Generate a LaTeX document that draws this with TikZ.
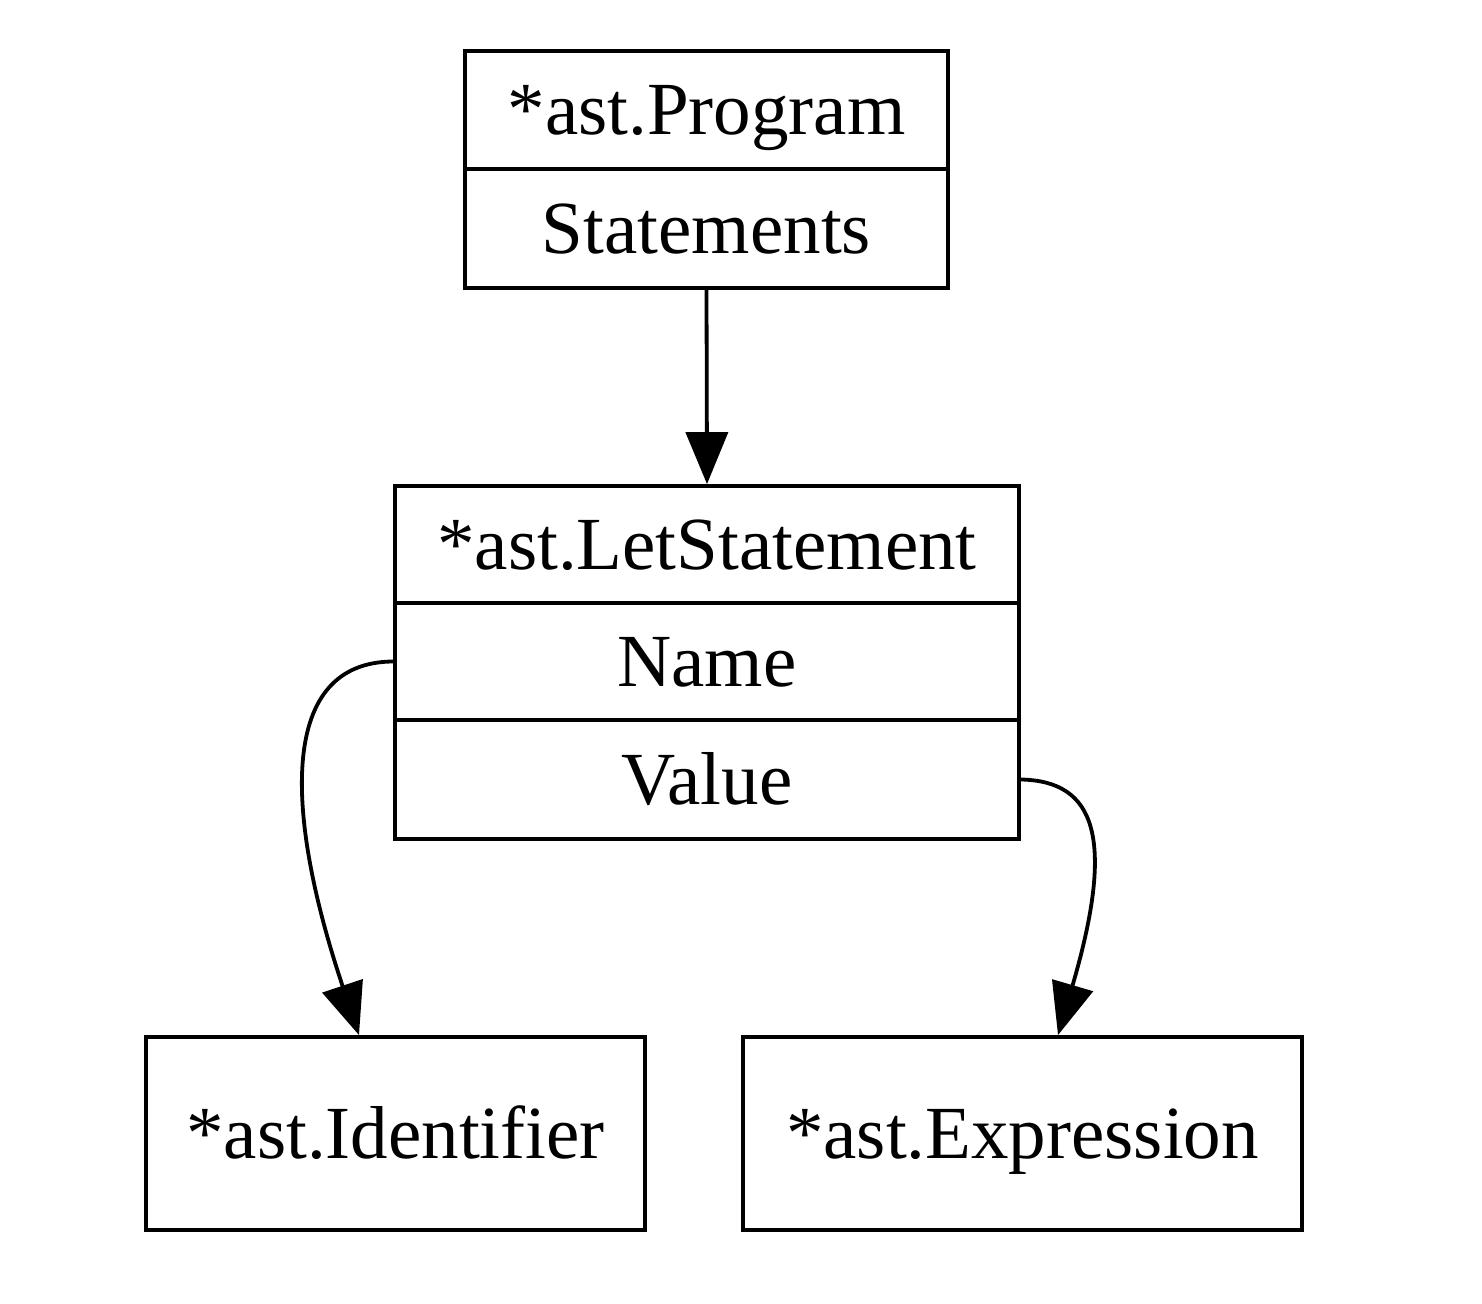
\documentclass[tikz,border=0pt]{standalone}
\usepackage{fontspec}
\setmainfont{Liberation Serif}
\usetikzlibrary{arrows.meta}
\begin{document}
\begin{tikzpicture}[x=0.5pt,y=-0.5pt,
  field/.style={draw,line width=1.9pt,inner sep=0pt,text height=32pt,text depth=7pt,font=\fontsize{37.5}{45}\selectfont},
  conn/.style={line width=1.9pt,-{Triangle[length=26pt,width=21pt]}}]
\useasboundingbox (0,0) rectangle (1482,1304);
\node[field,minimum width=241.5pt,minimum height=59pt] (progtitle) at (706.5,110) {*ast.Program};
\node[field,minimum width=241.5pt,minimum height=59.5pt] (progstmt) at (706.5,228.5) {Statements};
\node[field,minimum width=312pt,minimum height=58.5pt] (lethead) at (707,544.5) {*ast.LetStatement};
\node[field,minimum width=312pt,minimum height=58.5pt] (letname) at (707,661.5) {Name};
\node[field,minimum width=312pt,minimum height=59.5pt] (letvalue) at (707,779.5) {Value};
\node[field,minimum width=249.5pt,minimum height=96.5pt] (ident) at (395.5,1133.5) {*ast.Identifier};
\node[field,minimum width=279.5pt,minimum height=96.5pt] (expr) at (1022.5,1133.5) {*ast.Expression};
\coordinate (identin) at ([xshift=-18.25pt]ident.north);
\coordinate (exprin) at ([xshift=17.75pt]expr.north);
\draw[conn] (progstmt.south) -- (lethead.north);
\draw[conn] (letname.west) .. controls (280,662) and (283,808) .. (identin);
\draw[conn] (letvalue.east) .. controls (1095,781) and (1116,837) .. (exprin);
\end{tikzpicture}
\end{document}
